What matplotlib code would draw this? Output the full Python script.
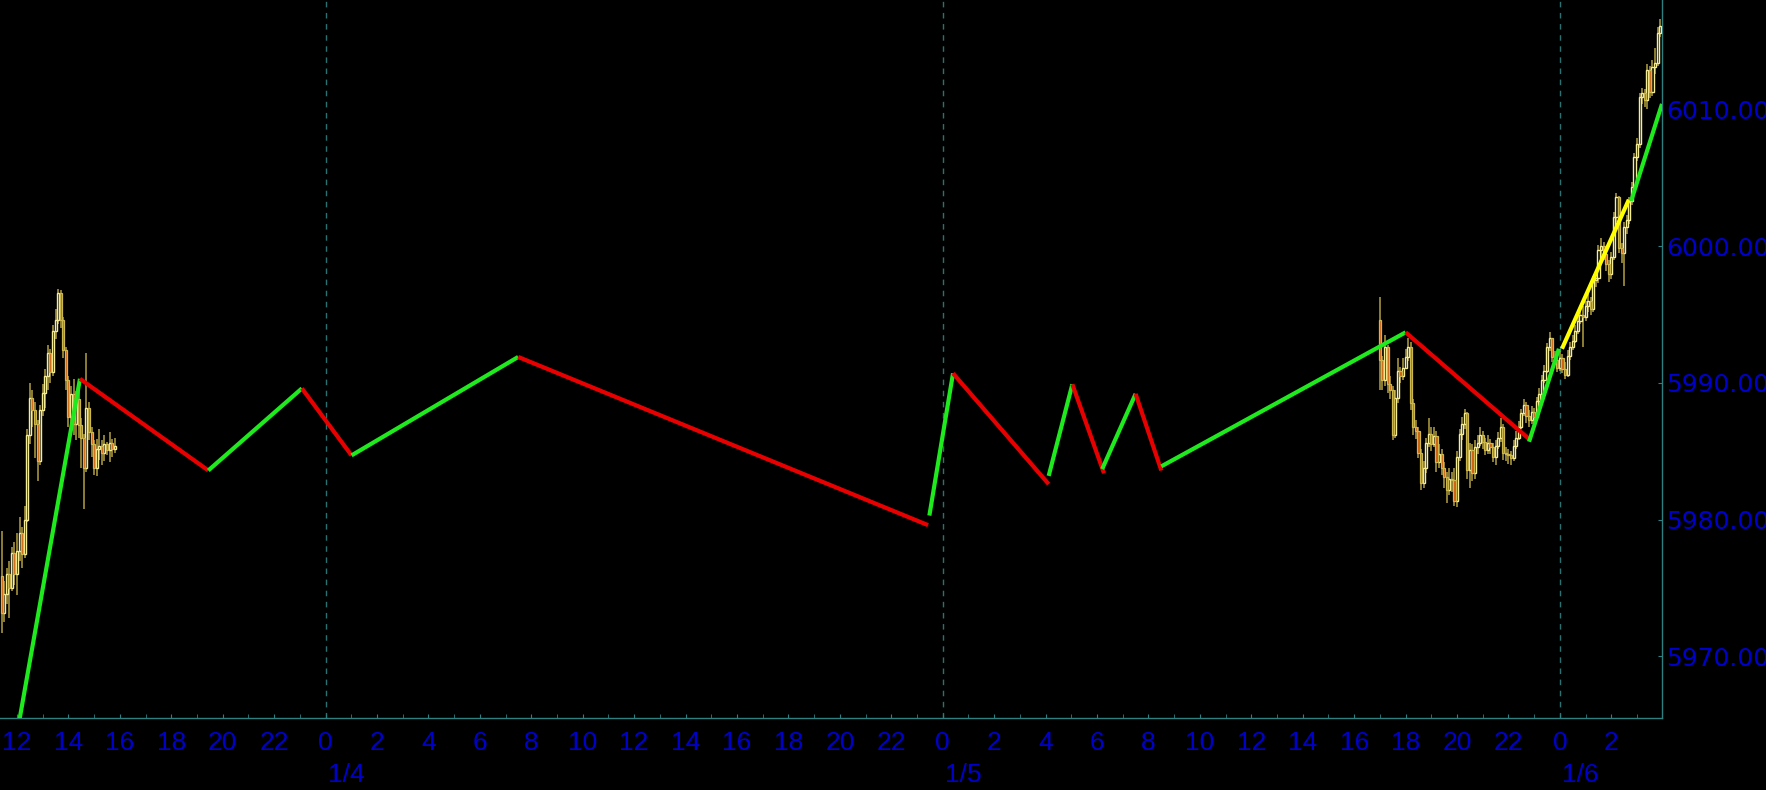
import numpy as np
import matplotlib
matplotlib.use('Agg')
import matplotlib.pyplot as plt
from matplotlib.transforms import blended_transform_factory

# time is in hours counted from 1/4 00:00, one bar every 6 minutes
bar_step = 0.1

left_start = -12.6
left_open0 = 5975.9
left_close = [5973.2, 5974.6, 5976.0, 5975.0, 5977.6, 5976.0, 5977.7, 5979.0, 5977.5, 5980.0,
              5986.2, 5988.9, 5988.0, 5987.0, 5984.3, 5988.0, 5989.3, 5990.5, 5992.2, 5990.8,
              5993.8, 5994.6, 5996.6, 5994.6, 5992.4, 5990.2, 5987.5, 5989.2, 5987.0, 5988.8,
              5986.9, 5986.0, 5983.8, 5988.2, 5986.4, 5985.5, 5983.8, 5985.2, 5985.4, 5984.9,
              5985.5, 5985.1, 5985.6, 5985.2, 5985.4]
left_high = [5979.2, 5975.5, 5976.5, 5977.0, 5978.0, 5978.4, 5979.0, 5980.2, 5979.5, 5981.0,
             5986.6, 5990.0, 5989.5, 5988.6, 5987.3, 5988.4, 5989.9, 5991.0, 5992.8, 5992.5,
             5994.2, 5995.4, 5996.9, 5996.8, 5994.8, 5992.6, 5990.5, 5989.8, 5990.3, 5989.4,
             5989.5, 5987.4, 5986.3, 5992.2, 5988.6, 5986.8, 5985.8, 5985.9, 5986.6, 5985.8,
             5986.2, 5985.7, 5986.4, 5985.9, 5986.0]
left_low = [5971.7, 5972.5, 5973.8, 5972.8, 5974.8, 5975.2, 5974.5, 5977.0, 5976.5, 5977.2,
            5979.8, 5985.5, 5986.8, 5984.5, 5982.8, 5984.0, 5987.6, 5988.2, 5989.5, 5990.0,
            5990.5, 5993.2, 5994.3, 5994.0, 5991.8, 5989.5, 5986.8, 5986.5, 5986.2, 5985.8,
            5986.0, 5983.8, 5980.8, 5983.5, 5985.8, 5984.6, 5983.3, 5983.2, 5984.4, 5984.0,
            5984.3, 5984.7, 5984.2, 5984.6, 5984.9]

right_start = 41.0
right_open0 = 5994.6
right_close = [5991.7, 5990.2, 5992.6, 5989.9, 5989.5, 5986.2, 5988.9, 5990.9, 5990.5, 5991.1,
               5991.9, 5992.6, 5988.5, 5986.8, 5986.5, 5984.9, 5982.7, 5983.8, 5985.6, 5986.3,
               5985.5, 5986.1, 5984.2, 5984.8, 5983.8, 5983.1, 5982.2, 5983.0, 5982.9, 5981.4,
               5984.6, 5986.3, 5987.0, 5987.8, 5983.6, 5985.1, 5983.4, 5985.3, 5985.6, 5986.2,
               5985.7, 5985.1, 5985.6, 5985.3, 5984.6, 5985.4, 5986.0, 5986.8, 5984.9, 5984.8,
               5984.7, 5984.5, 5985.4, 5986.0, 5986.8, 5987.8, 5988.4, 5987.6, 5987.3, 5987.9,
               5987.5, 5988.7, 5989.2, 5990.2, 5990.9, 5992.6, 5993.3, 5991.9, 5991.7, 5991.1,
               5991.8, 5991.0, 5990.6, 5992.0, 5992.6, 5993.1, 5993.8, 5994.5, 5995.0, 5994.8,
               5995.6, 5996.0, 5995.4, 5997.5, 5997.7, 5999.7, 6000.0, 5999.4, 5998.7, 5998.0,
               5999.2, 6002.1, 6003.6, 5999.9, 5999.5, 6001.4, 6001.9, 6003.3, 6004.3, 6006.5,
               6007.5, 6010.9, 6011.2, 6010.7, 6012.9, 6011.3, 6013.1, 6013.4, 6015.6, 6016.1]
right_high = [5996.3, 5992.0, 5993.5, 5992.8, 5990.5, 5989.8, 5989.5, 5991.8, 5991.2, 5991.8,
              5992.5, 5993.3, 5993.0, 5988.8, 5987.3, 5986.8, 5985.2, 5984.3, 5986.0, 5987.4,
              5986.8, 5986.8, 5986.5, 5985.5, 5985.2, 5984.2, 5983.5, 5983.8, 5983.5, 5983.8,
              5985.0, 5986.6, 5987.5, 5988.1, 5987.9, 5985.6, 5985.5, 5985.8, 5986.2, 5986.8,
              5986.5, 5986.0, 5986.2, 5985.9, 5985.6, 5985.8, 5986.4, 5987.4, 5987.0, 5985.3,
              5985.2, 5985.0, 5985.8, 5986.5, 5987.2, 5988.1, 5988.8, 5988.6, 5988.0, 5988.3,
              5988.2, 5989.0, 5989.6, 5990.6, 5991.3, 5992.9, 5993.7, 5993.2, 5992.3, 5991.9,
              5992.3, 5992.1, 5991.5, 5992.4, 5993.0, 5993.5, 5994.2, 5994.9, 5995.4, 5995.6,
              5996.0, 5996.5, 5996.3, 5997.8, 5998.2, 6000.1, 6000.6, 6000.3, 5999.7, 5999.0,
              5999.6, 6002.5, 6003.9, 6003.7, 6000.2, 6001.8, 6002.3, 6003.6, 6004.7, 6006.8,
              6007.9, 6011.2, 6011.6, 6011.5, 6013.3, 6013.2, 6013.6, 6014.5, 6016.0, 6016.6]
right_low = [5989.5, 5989.5, 5989.8, 5989.3, 5988.8, 5985.8, 5986.0, 5988.5, 5990.0, 5990.2,
             5991.0, 5991.6, 5988.0, 5986.2, 5985.9, 5984.5, 5982.2, 5982.3, 5983.4, 5985.3,
             5985.0, 5985.3, 5983.5, 5983.8, 5983.3, 5982.3, 5981.2, 5981.8, 5982.0, 5981.0,
             5980.9, 5984.3, 5985.8, 5986.6, 5983.0, 5982.3, 5982.8, 5983.0, 5984.8, 5985.4,
             5985.2, 5984.7, 5984.8, 5984.8, 5984.2, 5984.0, 5985.2, 5985.7, 5984.4, 5984.3,
             5984.1, 5984.0, 5984.3, 5985.2, 5985.8, 5986.6, 5987.6, 5987.1, 5986.8, 5987.0,
             5987.1, 5987.3, 5988.4, 5988.9, 5990.0, 5990.7, 5992.3, 5991.5, 5991.3, 5990.8,
             5990.9, 5990.7, 5990.3, 5990.4, 5991.7, 5992.4, 5992.9, 5993.6, 5994.3, 5992.6,
             5994.5, 5995.2, 5995.0, 5995.2, 5997.0, 5997.3, 5999.2, 5999.0, 5998.2, 5997.4,
             5997.6, 5999.0, 6001.8, 5999.5, 5998.8, 5997.1, 6000.9, 6001.6, 6003.0, 6004.0,
             6006.2, 6007.2, 6010.4, 6010.2, 6010.0, 6010.8, 6011.0, 6012.6, 6013.2, 6015.3]

# zigzag legs: start time/price, end time/price, kind
leg_t0 = [-11.9, -9.55, -4.56, -0.92, 1.01, 7.49, 23.48, 24.4, 28.12, 29.04, 30.2, 31.5, 32.5, 42.0, 46.8, 48.08, 50.77]
leg_p0 = [5965.4, 5990.3, 5983.6, 5989.6, 5984.7, 5991.9, 5980.3, 5990.7, 5983.2, 5989.9, 5983.7, 5989.2, 5983.9, 5993.7, 5985.7, 5992.5, 6003.3]
leg_t1 = [-9.55, -4.56, -0.92, 1.01, 7.49, 23.43, 24.4, 28.12, 29.04, 30.27, 31.5, 32.5, 42.0, 46.8, 47.96, 50.68, 51.97]
leg_p1 = [5990.3, 5983.6, 5989.6, 5984.7, 5991.9, 5979.6, 5990.7, 5982.6, 5989.9, 5983.4, 5989.2, 5983.6, 5993.7, 5985.9, 5992.5, 6003.4, 6010.4]
leg_kind = ['up', 'down', 'up', 'down', 'up', 'down', 'up', 'down', 'up', 'down', 'up', 'down', 'up', 'down', 'up', 'mid', 'up']

day_ticks = [0, 24, 48]
day_names = ['1/4', '1/5', '1/6']
price_ticks = [5970, 5980, 5990, 6000, 6010]

leg_colors = {'up': '#1EEA1E', 'down': '#E80000', 'mid': '#FFFF00'}
text_blue = '#0000CD'
axis_teal = '#2E7F7F'
wick_col = '#B4A040'
bull_edge = '#F5EC96'
bear_fill = '#D2580A'
bear_edge = '#CDB850'


def draw_candles(ax, start, open0, close, high, low):
    close = np.array(close)
    opens = np.concatenate([[open0], close[:-1]])
    t = start + bar_step * np.arange(len(close))
    up = close >= opens
    ax.vlines(t, low, high, color=wick_col, lw=1.1, zorder=2)
    ax.bar(t[up], close[up] - opens[up], bottom=opens[up], width=0.08,
           color='black', edgecolor=bull_edge, lw=1.0, zorder=3)
    ax.bar(t[~up], opens[~up] - close[~up], bottom=close[~up], width=0.08,
           color=bear_fill, edgecolor=bear_edge, lw=0.9, zorder=3)


fig = plt.figure(figsize=(17.66, 7.90), dpi=100, facecolor='black')
ax = fig.add_axes([0, 72 / 790, 1662 / 1766, 718 / 790])
ax.set_facecolor('black')

for d in day_ticks:
    ax.axvline(d, color='#2A7272', lw=1.0, ls=(0, (4, 4)), zorder=1)

draw_candles(ax, left_start, left_open0, left_close, left_high, left_low)
draw_candles(ax, right_start, right_open0, right_close, right_high, right_low)

for t0, p0, t1, p1, k in zip(leg_t0, leg_p0, leg_t1, leg_p1, leg_kind):
    ax.plot([t0, t1], [p0, p1], color=leg_colors[k], lw=3.0, solid_capstyle='butt', zorder=5)

ax.set_xlim(-12.66, 51.97)
ax.set_ylim(5965.5, 6018.0)

for s in ['left', 'top']:
    ax.spines[s].set_visible(False)
for s in ['right', 'bottom']:
    ax.spines[s].set_color(axis_teal)
    ax.spines[s].set_linewidth(1.0)

hours = np.arange(-12, 52, 2)
ax.set_xticks(hours)
ax.set_xticklabels([str(int(h) % 24) for h in hours])
ax.set_xticks(np.arange(-12, 52, 1), minor=True)
ax.tick_params(axis='x', which='both', direction='in', length=3, color=axis_teal,
               labelcolor=text_blue, labelsize=19, pad=9)
for lab in ax.get_xticklabels():
    lab.set_family(['Liberation Sans', 'DejaVu Sans'])

ax.yaxis.tick_right()
ax.set_yticks(price_ticks)
ax.set_yticklabels(['%.2f' % p for p in price_ticks])
ax.tick_params(axis='y', direction='in', length=3, color=axis_teal,
               labelcolor=text_blue, labelsize=18, pad=3)

trans = blended_transform_factory(ax.transData, ax.transAxes)
for d, name in zip(day_ticks, day_names):
    ax.annotate(name, xy=(d, 0), xycoords=trans, xytext=(2, -45), textcoords='offset pixels',
                ha='left', va='top', color=text_blue, fontsize=19,
                family=['Liberation Sans', 'DejaVu Sans'])

fig.savefig('out.png', dpi=100, facecolor='black')
